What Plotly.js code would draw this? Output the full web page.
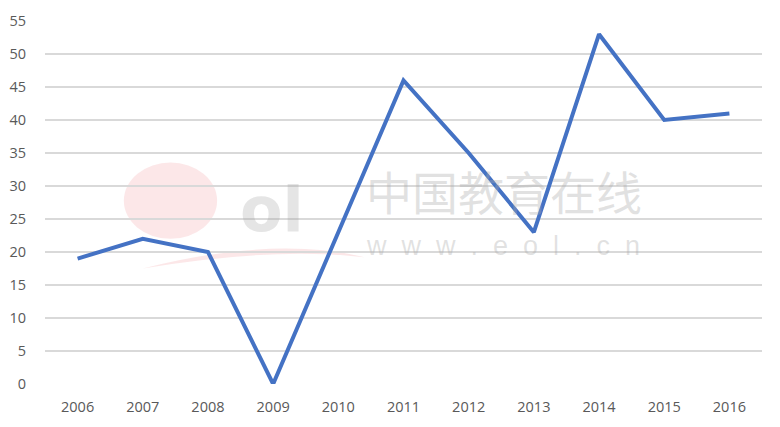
<!DOCTYPE html>
<html>
<head>
<meta charset="utf-8">
<script src="https://cdn.plot.ly/plotly-3.0.1.min.js"></script>
<style>html,body{margin:0;padding:0;background:#fff;}#chart{width:780px;height:427px;}</style>
</head>
<body>
<div id="chart"></div>
<script>
var years = ['2006','2007','2008','2009','2010','2011','2012','2013','2014','2015','2016'];
var values = [19, 22, 20, 0, 23, 46, 35, 23, 53, 40, 41];
var yTicks = [0,5,10,15,20,25,30,35,40,45,50,55];

var trace = {
  x: years, y: values, type: 'scatter', mode: 'lines',
  line: {color: '#4472C4', width: 4, shape: 'linear'},
  hoverinfo: 'x+y'
};

var layout = {
  width: 780, height: 427,
  margin: {l: 45, r: 18, t: 21, b: 43},
  paper_bgcolor: '#ffffff', plot_bgcolor: '#ffffff',
  showlegend: false,
  font: {family: 'Open Sans, Liberation Sans, sans-serif', size: 14.5, color: '#595959'},
  xaxis: {
    type: 'category', range: [-0.5, 10.5], showgrid: false, zeroline: false,
    showline: false, ticks: '', tickfont: {size: 14.5, color: '#595959'}, ticklabelstandoff: 12
  },
  yaxis: {
    range: [0, 55], tickvals: yTicks, ticktext: yTicks.map(String), showgrid: true,
    gridcolor: '#d9d9d9', gridwidth: 1.5, zeroline: false, showline: false,
    ticks: '', tickfont: {size: 14.5, color: '#595959'}, ticklabelstandoff: 18
  },
  shapes: [
    {type: 'circle', xref: 'paper', yref: 'paper', x0: 0.11, x1: 0.24, y0: 0.40, y1: 0.61,
     fillcolor: 'rgba(245,160,165,0.25)', line: {width: 0}, layer: 'below'},
    {type: 'path', xref: 'x', yref: 'y',
     path: 'M 1.0,17.5 Q 3.0,22.5 4.4,19.2 Q 3.0,20.8 1.0,17.5 Z',
     fillcolor: 'rgba(245,160,165,0.25)', line: {width: 0}, layer: 'below'}
  ],
  annotations: [
    {xref: 'paper', yref: 'paper', x: 0.446, y: 0.44, xanchor: 'left', yanchor: 'bottom',
     text: '中国教育在线', showarrow: false, borderpad: 0,
     font: {family: 'Noto Sans CJK SC', size: 46, color: 'rgba(170,170,170,0.35)'}},
    {xref: 'paper', yref: 'paper', x: 0.446, y: 0.425, xanchor: 'left', yanchor: 'top',
     text: 'w  w  w  .  e  o  l  .  c  n', showarrow: false, borderpad: 0,
     font: {family: 'Liberation Sans', size: 27, color: 'rgba(170,170,170,0.35)'}},
    {xref: 'paper', yref: 'paper', x: 0.316, y: 0.48, xanchor: 'center', yanchor: 'middle',
     text: '<b>ol</b>', showarrow: false,
     font: {family: 'DejaVu Sans', size: 62, color: 'rgba(160,160,160,0.28)'}}
  ]
};

Plotly.newPlot('chart', [trace], layout, {displayModeBar: false, staticPlot: true});
</script>
</body>
</html>
